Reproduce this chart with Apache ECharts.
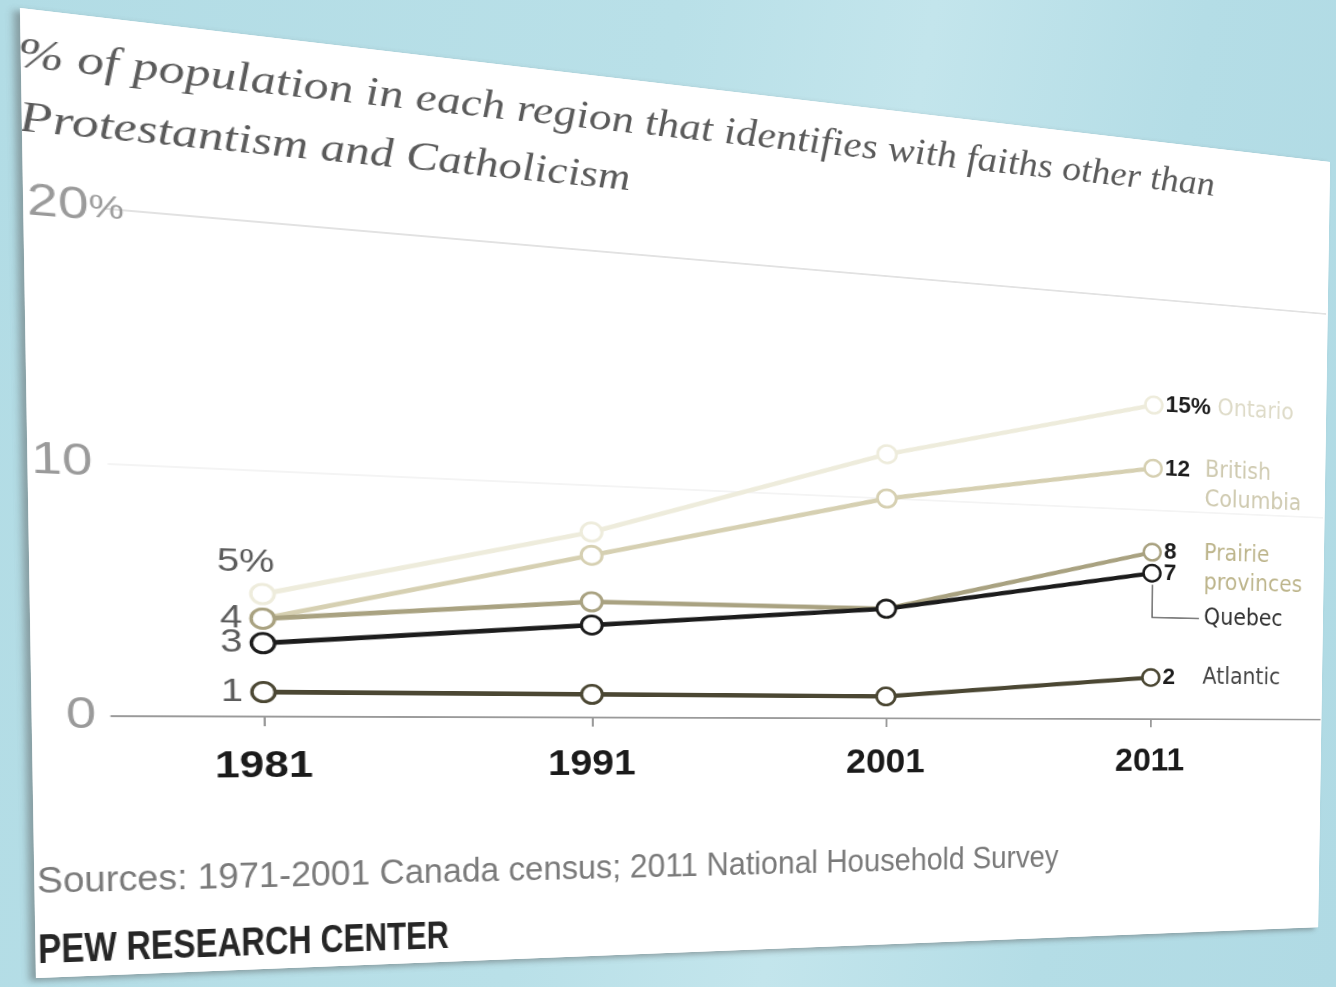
<!DOCTYPE html>
<html>
<head>
<meta charset="utf-8">
<script src="https://cdn.jsdelivr.net/npm/echarts@6/dist/echarts.min.js"></script>
<style>
  html, body { margin: 0; padding: 0; width: 1336px; height: 987px; overflow: hidden; }
  body { background: linear-gradient(100deg, #b2dce5 0%, #b9e0e8 45%, #c3e5ec 62%, #b4dde6 80%, #b0dae4 100%); position: relative; }
  #card { position: absolute; left: 0; top: 0; width: 1300px; height: 960px; background: #fff;
          transform-origin: 0 0; box-shadow: -5px 3px 6px rgba(80,80,80,0.45); }
</style>
</head>
<body>
<div id="card"></div>
<script>
// ---------- data ----------
const years = [1981, 1991, 2001, 2011];
const ontario = [5, 8, 12, 15];
const britishColumbia = [4, 7, 10, 12];
const prairie = [4, 5, 5, 8];
const quebec = [3, 4, 5, 7];
const atlantic = [1, 1, 1, 2];
const yTicks = [0, 10, 20];
const titleText = '% of population in each region that identifies with faiths other than\nProtestantism and Catholicism';
const sourceText = 'Sources: 1971-2001 Canada census; 2011 National Household Survey';
const creditText = 'PEW RESEARCH CENTER';

// ---------- perspective of the photographed card ----------
const W = 1300, H = 960;
const quad = [[20, 8], [1330, 162], [1318, 927], [36, 978]];
function matrixFor(w, h, q) {
  const [x0, y0] = q[0], [x1, y1] = q[1], [x2, y2] = q[2], [x3, y3] = q[3];
  const dx1 = x1 - x2, dx2 = x3 - x2, dx3 = x0 - x1 + x2 - x3;
  const dy1 = y1 - y2, dy2 = y3 - y2, dy3 = y0 - y1 + y2 - y3;
  const den = dx1 * dy2 - dx2 * dy1;
  const g = (dx3 * dy2 - dx2 * dy3) / den, hh = (dx1 * dy3 - dx3 * dy1) / den;
  const a = x1 - x0 + g * x1, b = x3 - x0 + hh * x3, c = x0;
  const d = y1 - y0 + g * y1, e = y3 - y0 + hh * y3, f = y0;
  return `matrix3d(${a / w},${d / w},0,${g / w},${b / h},${e / h},0,${hh / h},0,0,1,0,${c},${f},0,1)`;
}
const card = document.getElementById('card');
card.style.transform = matrixFor(W, H, quad);

const SANS = '"Liberation Sans", Arial, sans-serif';
const NARROW = '"DejaVu Sans Condensed", "Liberation Sans", Arial, sans-serif';
const SERIF = '"Liberation Serif", "DejaVu Serif", serif';

function makeSeries(name, values, cfg) {
  const last = values[values.length - 1];
  const numTxt = cfg.pct ? last + '%' : String(last);
  const nameLines = cfg.label ? cfg.label.split('\n') : [];
  let fmt = (cfg.pct ? '{vw|' : '{v|') + numTxt + '}';
  if (nameLines.length) fmt += '{n|' + nameLines[0] + '}';
  for (let i = 1; i < nameLines.length; i++) fmt += '\n{v|\u00a0}{n|' + nameLines[i] + '}';
  const data = values.map((v, i) => {
    const item = { value: [years[i], v] };
    if (i === 0 && cfg.firstLabel) {
      item.label = Object.assign({
        show: true, color: '#5c5c5c', fontFamily: SANS, fontSize: 34,
        formatter: cfg.firstLabel
      }, cfg.firstLabelPos);
    }
    return item;
  });
  const s = {
    name: name, type: 'line', data: data, z: cfg.z,
    symbol: 'circle', symbolSize: 20, showSymbol: true,
    lineStyle: { color: cfg.color, width: 5 },
    itemStyle: { color: '#fff', borderColor: cfg.color, borderWidth: 3 },
    label: { show: false },
    emphasis: { disabled: true },
    endLabel: {
      show: true, distance: 14, formatter: fmt, verticalAlign: 'top', offset: [0, -18],
      rich: {
        v: { fontFamily: SANS, fontWeight: 'bold', fontSize: 27, color: '#1e1e1e', width: 48, lineHeight: 36 },
        vw: { fontFamily: SANS, fontWeight: 'bold', fontSize: 27, color: '#1e1e1e', padding: [0, 8, 0, 0], lineHeight: 36 },
        n: { fontFamily: NARROW, fontSize: 28, color: cfg.textColor, lineHeight: 36 }
      }
    }
  };
  if (cfg.leader) {
    const top = last - 0.55, mid = last - 2.1;
    const lbl = { show: true, position: 'end', formatter: cfg.leader, color: '#333',
                  fontFamily: NARROW, fontSize: 28, distance: 6 };
    s.markLine = {
      silent: true, symbol: ['none', 'none'], animation: false,
      lineStyle: { color: '#555', width: 1.5, type: 'solid' },
      label: { show: false },
      data: [
        [{ coord: [years[3], top] }, { coord: [years[3], mid] }],
        [{ coord: [years[3], mid], label: lbl }, { coord: [years[3] + 1.9, mid], label: lbl }]
      ]
    };
  }
  return s;
}

const series = [
  makeSeries('Ontario', ontario, { color: '#eeecdc', textColor: '#dedbc8', pct: true, label: 'Ontario', z: 2,
    firstLabel: '5%', firstLabelPos: { position: 'top', distance: 4, offset: [-14, 0] } }),
  makeSeries('British Columbia', britishColumbia, { color: '#d6d0b2', textColor: '#cfcab0', label: 'British\nColumbia', z: 3,
    firstLabel: '4', firstLabelPos: { position: 'left', distance: 6 } }),
  makeSeries('Prairie provinces', prairie, { color: '#a9a281', textColor: '#bdb58c', label: 'Prairie\nprovinces', z: 4 }),
  makeSeries('Atlantic', atlantic, { color: '#4b4733', textColor: '#444', label: 'Atlantic', z: 5,
    firstLabel: '1', firstLabelPos: { position: 'left', distance: 6 } }),
  makeSeries('Quebec', quebec, { color: '#1c1c1c', textColor: '#333', label: '', leader: 'Quebec', z: 6,
    firstLabel: '3', firstLabelPos: { position: 'left', distance: 6 } })
];

const chart = echarts.init(card, null, { renderer: 'canvas', width: W, height: H });
chart.setOption({
  backgroundColor: '#ffffff',
  animation: false,
  title: [
    { text: titleText, left: -2, top: 15, padding: 0,
      textStyle: { fontFamily: SERIF, fontStyle: 'italic', fontWeight: 'normal', fontSize: 43, color: '#5a5a5a', lineHeight: 62 } }
  ],
  graphic: [
    { type: 'text', x: 2, y: 846, scaleX: 0.87, silent: true,
      style: { text: sourceText, fontFamily: SANS, fontSize: 36, fill: '#7a7a7a' } },
    { type: 'text', x: 2, y: 912, scaleX: 0.67, silent: true,
      style: { text: creditText, fontFamily: SANS, fontWeight: 'bold', fontSize: 42, fill: '#262626' } }
  ],
  grid: { left: 63, right: 2, top: 188, bottom: 264, containLabel: false },
  xAxis: {
    type: 'value', min: 1976.724, max: 2017.98,
    splitLine: { show: false },
    axisLine: { show: true, lineStyle: { color: '#9a9a9a', width: 2 } },
    axisTick: { show: true, customValues: years, length: 10, lineStyle: { color: '#9a9a9a', width: 2 } },
    axisLabel: { customValues: years, margin: 34, fontFamily: SANS, fontWeight: 'bold', fontSize: 38, color: '#1a1a1a',
                 formatter: v => String(v) }
  },
  yAxis: {
    type: 'value', min: yTicks[0], max: yTicks[yTicks.length - 1], interval: 10,
    axisLine: { show: false }, axisTick: { show: false },
    splitLine: { show: true, lineStyle: { color: ['#ffffff', '#f4f4f4', '#e2e2e2'], width: 2 } },
    axisLabel: {
      margin: -16, color: '#999',
      formatter: v => v === yTicks[yTicks.length - 1] ? '{n|' + v + '}{h|%}' : '{n|' + v + '}{s|%}',
      rich: {
        n: { fontFamily: SANS, fontSize: 44, color: '#9a9a9a' },
        h: { fontFamily: SANS, fontSize: 32, color: '#9a9a9a' },
        s: { fontFamily: SANS, fontSize: 32, color: 'rgba(0,0,0,0)' }
      }
    }
  },
  series: series
});
</script>
</body>
</html>
